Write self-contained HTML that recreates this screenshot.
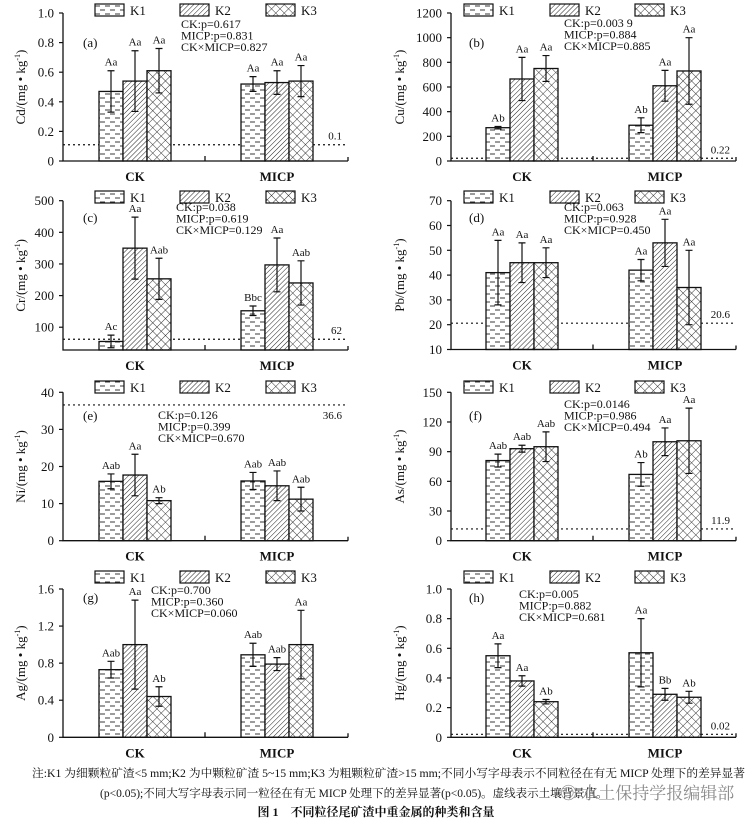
<!DOCTYPE html>
<html><head><meta charset="utf-8">
<style>
html,body{margin:0;padding:0;background:#fff;}
svg{display:block;}
text{font-family:"Liberation Serif","Noto Serif CJK SC",serif;fill:#111;}
.cn{font-family:"Liberation Serif","Noto Serif CJK SC","Noto Sans CJK SC",serif;}
</style></head>
<body>
<svg id="fig" width="752" height="823" viewBox="0 0 752 823" xmlns="http://www.w3.org/2000/svg">
<defs>
<pattern id="pK1" width="10" height="8" patternUnits="userSpaceOnUse">
<rect width="10" height="8" fill="#fff"/>
<line x1="0" y1="2" x2="5" y2="2" stroke="#222" stroke-width="0.9"/>
<line x1="5" y1="6" x2="10" y2="6" stroke="#222" stroke-width="0.9"/>
</pattern>
<pattern id="pK2" width="3.5" height="3.5" patternUnits="userSpaceOnUse" patternTransform="rotate(45)">
<rect width="3.5" height="3.5" fill="#fff"/>
<line x1="0" y1="0" x2="0" y2="3.5" stroke="#222" stroke-width="1"/>
</pattern>
<pattern id="pK3" width="6" height="6" patternUnits="userSpaceOnUse" patternTransform="rotate(45)">
<rect width="6" height="6" fill="#fff"/>
<line x1="0" y1="0" x2="0" y2="6" stroke="#222" stroke-width="0.9"/>
<line x1="0" y1="0" x2="6" y2="0" stroke="#222" stroke-width="0.9"/>
</pattern>
</defs>
<g id="panels"></g>
<text class="cn" x="32" y="777" font-size="11.5" textLength="713" lengthAdjust="spacingAndGlyphs">注:K1 为细颗粒矿渣&lt;5 mm;K2 为中颗粒矿渣 5~15 mm;K3 为粗颗粒矿渣&gt;15 mm;不同小写字母表示不同粒径在有无 MICP 处理下的差异显著</text>
<text class="cn" x="100" y="797" font-size="11.5">(p&lt;0.05);不同大写字母表示同一粒径在有无 MICP 处理下的差异显著(p&lt;0.05)。虚线表示土壤背景值。</text>
<text class="cn" x="560" y="799" font-size="17" style="fill:#8a8a8a">◎ 水土保持学报编辑部</text>
<text class="cn" x="376" y="816" font-size="12" font-weight="bold" text-anchor="middle">图 1　不同粒径尾矿渣中重金属的种类和含量</text>
</svg>
<script>
// ---- data ----
const groups = ['CK','MICP'];
const seriesNames = ['K1','K2','K3'];
const cdCK=[0.47,0.54,0.61], cdMICP=[0.52,0.53,0.54], cdErrCK=[0.14,0.205,0.15], cdErrMICP=[0.05,0.08,0.105];
const cdLabCK=['Aa','Aa','Aa'], cdLabMICP=['Aa','Aa','Aa'], cdTicks=[0,0.2,0.4,0.6,0.8,1.0], cdTickLabels=['0','0.2','0.4','0.6','0.8','1.0'];
const cuCK=[270,665,750], cuMICP=[290,610,730], cuErrCK=[10,175,105], cuErrMICP=[60,125,270];
const cuLabCK=['Ab','Aa','Aa'], cuLabMICP=['Ab','Aa','Aa'], cuTicks=[0,200,400,600,800,1000,1200], cuTickLabels=['0','200','400','600','800','1000','1200'];
const crCK=[55,350,253], crMICP=[152,297,240], crErrCK=[20,98,65], crErrMICP=[15,85,70];
const crLabCK=['Ac','Aa','Aab'], crLabMICP=['Bbc','Aa','Aab'], crTicks=[100,200,300,400,500], crTickLabels=['100','200','300','400','500'];
const pbCK=[41,45,45], pbMICP=[42,53,35], pbErrCK=[13,8,6], pbErrMICP=[4.3,9.5,15];
const pbLabCK=['Aa','Aa','Aa'], pbLabMICP=['Aa','Aa','Aa'], pbTicks=[10,20,30,40,50,60,70], pbTickLabels=['10','20','30','40','50','60','70'];
const niCK=[16,17.7,10.8], niMICP=[16.1,14.8,11.2], niErrCK=[2,5.6,0.8], niErrMICP=[2.3,4,3.2];
const niLabCK=['Aab','Aa','Ab'], niLabMICP=['Aab','Aab','Aab'], niTicks=[0,10,20,30,40], niTickLabels=['0','10','20','30','40'];
const asCK=[81,93,95], asMICP=[67,100,101], asErrCK=[6.5,3.5,15], asErrMICP=[12,14,33];
const asLabCK=['Aab','Aab','Aab'], asLabMICP=['Ab','Aa','Aa'], asTicks=[0,30,60,90,120,150], asTickLabels=['0','30','60','90','120','150'];
const agCK=[0.73,1.0,0.44], agMICP=[0.89,0.79,1.0], agErrCK=[0.09,0.48,0.105], agErrMICP=[0.125,0.07,0.37];
const agLabCK=['Aab','Aa','Ab'], agLabMICP=['Aab','Aab','Aa'], agTicks=[0,0.4,0.8,1.2,1.6], agTickLabels=['0','0.4','0.8','1.2','1.6'];
const hgCK=[0.55,0.38,0.24], hgMICP=[0.57,0.29,0.27], hgErrCK=[0.08,0.035,0.015], hgErrMICP=[0.23,0.04,0.04];
const hgLabCK=['Aa','Aa','Ab'], hgLabMICP=['Aa','Bb','Ab'], hgTicks=[0,0.2,0.4,0.6,0.8,1.0], hgTickLabels=['0','0.2','0.4','0.6','0.8','1.0'];
const refValues=[0.11,22,62,20.6,36.6,11.9,null,0.02];
const refLabels=['0.1','0.22','62','20.6','36.6','11.9','','0.02'];

const NS='http://www.w3.org/2000/svg';
const root=document.getElementById('panels');
function mk(tag,attrs,parent,txt){const e=document.createElementNS(NS,tag);for(const k in attrs)e.setAttribute(k,attrs[k]);if(txt!==undefined)e.textContent=txt;(parent||root).appendChild(e);return e;}

const L={ax:63,g:[99,241],xend:348,mid:205,lg:[95,180,266],ylab:25};
const R={ax:451,g:[486,629],xend:736,mid:593,lg:[464,550,635],ylab:404};
const panels=[
 {id:'a',m:'Cd',s:L,top:13,bot:161,ymin:0,ymax:1,v:[cdCK,cdMICP],e:[cdErrCK,cdErrMICP],lab:[cdLabCK,cdLabMICP],t:cdTicks,tl:cdTickLabels,leg:10,st:[181,28],stats:['CK:p=0.617','MICP:p=0.831','CK×MICP=0.827'],pl:[83,47],ri:0},
 {id:'b',m:'Cu',s:R,top:13,bot:161,ymin:0,ymax:1200,v:[cuCK,cuMICP],e:[cuErrCK,cuErrMICP],lab:[cuLabCK,cuLabMICP],t:cuTicks,tl:cuTickLabels,leg:10,st:[564,27],stats:['CK:p=0.003 9','MICP:p=0.884','CK×MICP=0.885'],pl:[469,47],ri:1},
 {id:'c',m:'Cr',s:L,top:200.7,bot:350,ymin:28,ymax:500,v:[crCK,crMICP],e:[crErrCK,crErrMICP],lab:[crLabCK,crLabMICP],t:crTicks,tl:crTickLabels,leg:197,st:[176,211],stats:['CK:p=0.038','MICP:p=0.619','CK×MICP=0.129'],pl:[83,222],ri:2},
 {id:'d',m:'Pb',s:R,top:200.7,bot:349.5,ymin:10,ymax:70,v:[pbCK,pbMICP],e:[pbErrCK,pbErrMICP],lab:[pbLabCK,pbLabMICP],t:pbTicks,tl:pbTickLabels,leg:197,st:[564,211],stats:['CK:p=0.063','MICP:p=0.928','CK×MICP=0.450'],pl:[469,222],ri:3},
 {id:'e',m:'Ni',s:L,top:392.3,bot:540.7,ymin:0,ymax:40,v:[niCK,niMICP],e:[niErrCK,niErrMICP],lab:[niLabCK,niLabMICP],t:niTicks,tl:niTickLabels,leg:387,st:[158,419],stats:['CK:p=0.126','MICP:p=0.399','CK×MICP=0.670'],pl:[83,420],ri:4,refBelow:true},
 {id:'f',m:'As',s:R,top:392.3,bot:540.7,ymin:0,ymax:150,v:[asCK,asMICP],e:[asErrCK,asErrMICP],lab:[asLabCK,asLabMICP],t:asTicks,tl:asTickLabels,leg:387,st:[564,408],stats:['CK:p=0.0146','MICP:p=0.986','CK×MICP=0.494'],pl:[469,420],ri:5},
 {id:'g',m:'Ag',s:L,top:589,bot:737.3,ymin:0,ymax:1.6,v:[agCK,agMICP],e:[agErrCK,agErrMICP],lab:[agLabCK,agLabMICP],t:agTicks,tl:agTickLabels,leg:577,st:[151,594],stats:['CK:p=0.700','MICP:p=0.360','CK×MICP=0.060'],pl:[83,602],ri:6},
 {id:'h',m:'Hg',s:R,top:589,bot:737.3,ymin:0,ymax:1.0,v:[hgCK,hgMICP],e:[hgErrCK,hgErrMICP],lab:[hgLabCK,hgLabMICP],t:hgTicks,tl:hgTickLabels,leg:577,st:[519,598],stats:['CK:p=0.005','MICP:p=0.882','CK×MICP=0.681'],pl:[469,602],ri:7}
];
const BW=24;
panels.forEach(p=>{
  const s=p.s;
  const g=mk('g',{});
  
  
  const y=v=>p.bot-(v-p.ymin)/(p.ymax-p.ymin)*(p.bot-p.top);
  seriesNames.forEach((n,i)=>{
    const r=mk('rect',{x:s.lg[i],y:p.leg-6,width:29,height:12,fill:'url(#pK'+(i+1)+')',stroke:'#111','stroke-width':1.2},g);
    
    
    const t=mk('text',{x:s.lg[i]+35,y:p.leg+5,'font-size':13},g,n);
    
    
  });
  const rv=refValues[p.ri];
  if(rv!==null){
    const ry=y(rv);
    const ln=mk('line',{x1:s.ax,y1:ry,x2:s.xend,y2:ry,stroke:'#111','stroke-width':1.2,'stroke-dasharray':'2,3'},g);
    
    
    const lt=mk('text',{x:s.xend-6,y:p.refBelow?ry+14:ry-5,'font-size':11,'text-anchor':'end'},g,refLabels[p.ri]);
    
    
  }
  groups.forEach((gr,gi)=>{
    seriesNames.forEach((n,i)=>{
      const v=p.v[gi][i], e=p.e[gi][i];
      const x=s.g[gi]+i*BW, yt=y(v);
      const b=mk('rect',{x:x,y:yt,width:BW,height:p.bot-yt,fill:'url(#pK'+(i+1)+')',stroke:'#111','stroke-width':1.3},g);
      
      
      const cx=x+BW/2, y1=y(v+e), y2=Math.min(y(v-e),p.bot);
      const eb=mk('path',{d:`M${cx},${y1}V${y2}M${cx-3.5},${y1}H${cx+3.5}M${cx-3.5},${y2}H${cx+3.5}`,stroke:'#111','stroke-width':1.2,fill:'none'},g);
      
      
      const lt=mk('text',{x:cx,y:y1-5,'font-size':11,'text-anchor':'middle'},g,p.lab[gi][i]);
      
      
    });
    const ct=mk('text',{x:s.g[gi]+BW*1.5,y:p.bot+20,'font-size':13,'font-weight':'bold','text-anchor':'middle'},g,gr);
    
    
  });
  const ax=mk('path',{d:`M${s.ax},${p.top}V${p.bot}H${s.xend}M${s.xend},${p.bot}v-4M${s.mid},${p.bot}v-5`,stroke:'#111','stroke-width':1.3,fill:'none'},g);
  
  
  p.t.forEach((tv,ti)=>{
    const ty=y(tv);
    const tk=mk('line',{x1:s.ax-4,y1:ty,x2:s.ax,y2:ty,stroke:'#111','stroke-width':1.2},g);
    
    
    const tl=mk('text',{x:s.ax-9,y:ty+4.5,'font-size':13,'text-anchor':'end'},g,p.tl[ti]);
    
    
  });
  const cy=(p.top+p.bot)/2;
  const yt=mk('text',{x:s.ylab,y:cy,'font-size':13,'text-anchor':'middle',transform:`rotate(-90 ${s.ylab} ${cy})`},g);
  
  
  yt.textContent=p.m+'/(mg • kg';
  mk('tspan',{dy:-5,'font-size':8},yt,'-1');
  mk('tspan',{dy:5},yt,')');
  const pl=mk('text',{x:p.pl[0],y:p.pl[1],'font-size':13},g,'('+p.id+')');
  
  
  p.stats.forEach((st,si)=>{
    const t=mk('text',{x:p.st[0],y:p.st[1]+si*11.5,'font-size':12},g,st);
    
    
  });
});
</script>
</body></html>
